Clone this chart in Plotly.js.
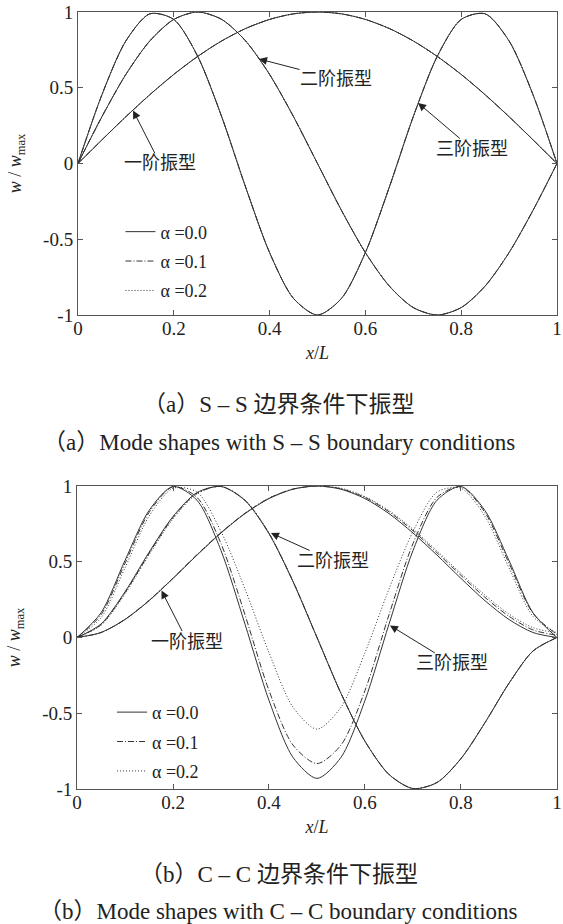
<!DOCTYPE html>
<html>
<head>
<meta charset="utf-8">
<script src="https://cdn.plot.ly/plotly-3.0.1.min.js"></script>
<style>html,body{margin:0;padding:0;background:#fff;}#chart{width:563px;height:924px;}</style>
</head>
<body>
<div id="chart"></div>
<script>
// ---- data ----
var xs = [0,0.05,0.1,0.15,0.2,0.25,0.3,0.35,0.4,0.45,0.5,0.55,0.6,0.65,0.7,0.75,0.8,0.85,0.9,0.95,1];
var alphaNames = ["α =0.0", "α =0.1", "α =0.2"];
var modeNames = ["一阶振型", "二阶振型", "三阶振型"];
var xTickVals = [0,0.2,0.4,0.6,0.8,1];
var xTickText = ["0","0.2","0.4","0.6","0.8","1"];
var yTickVals = [-1,-0.5,0,0.5,1];
var yTickText = ["-1","-0.5","0","0.5","1"];

// S-S boundary conditions (identical for all alpha)
var ssMode1 = [0,0.156,0.309,0.454,0.588,0.707,0.809,0.891,0.951,0.988,1,0.988,0.951,0.891,0.809,0.707,0.588,0.454,0.309,0.156,0];
var ssMode2 = [0,0.309,0.588,0.809,0.951,1,0.951,0.809,0.588,0.309,0,-0.309,-0.588,-0.809,-0.951,-1,-0.951,-0.809,-0.588,-0.309,0];
var ssMode3 = [0,0.454,0.809,0.988,0.951,0.707,0.309,-0.156,-0.588,-0.891,-1,-0.891,-0.588,-0.156,0.309,0.707,0.951,0.988,0.809,0.454,0];

// C-C boundary conditions
var ccMode1_a0 = [0,0.033,0.119,0.243,0.390,0.544,0.690,0.818,0.917,0.979,1,0.979,0.917,0.818,0.690,0.544,0.390,0.243,0.119,0.033,0];
var ccMode1_a1 = [0,0.033,0.120,0.245,0.392,0.547,0.693,0.820,0.920,0.980,1,0.982,0.925,0.830,0.705,0.560,0.410,0.265,0.140,0.050,0.015];
var ccMode1_a2 = [0,0.032,0.118,0.242,0.390,0.545,0.692,0.820,0.920,0.980,1,0.985,0.930,0.838,0.715,0.572,0.422,0.280,0.155,0.065,0.030];
var ccMode2_a0 = [0,0.089,0.302,0.562,0.799,0.957,0.997,0.904,0.685,0.369,0,-0.369,-0.685,-0.904,-0.997,-0.957,-0.799,-0.562,-0.302,-0.089,0];
var ccMode2_a1 = [0,0.085,0.296,0.554,0.792,0.953,0.997,0.906,0.687,0.370,0,-0.369,-0.685,-0.904,-0.997,-0.957,-0.799,-0.562,-0.302,-0.089,0];
var ccMode2_a2 = [0,0.080,0.288,0.545,0.783,0.948,0.997,0.908,0.690,0.372,0.002,-0.368,-0.684,-0.903,-0.997,-0.958,-0.800,-0.563,-0.303,-0.090,0];
var ccMode3_a0 = [0,0.163,0.509,0.838,0.997,0.906,0.574,0.088,-0.415,-0.791,-0.930,-0.791,-0.415,0.088,0.574,0.906,0.997,0.838,0.509,0.163,0];
var ccMode3_a1 = [0,0.150,0.490,0.825,0.995,0.925,0.620,0.150,-0.350,-0.710,-0.832,-0.710,-0.350,0.150,0.620,0.925,0.995,0.825,0.490,0.160,0.020];
var ccMode3_a2 = [0,0.130,0.460,0.800,0.985,0.960,0.700,0.320,-0.100,-0.460,-0.605,-0.460,-0.100,0.320,0.700,0.960,0.985,0.800,0.460,0.140,0.030];

// ---- styles ----
var ink = '#333';
var dashes = ['solid', '6px,2px,1px,2px', '1px,2px'];
var serif = 'Liberation Serif, Times New Roman, serif';
var cjk = 'Liberation Serif, Noto Sans CJK SC, serif';

var traces = [];
function addSet(series, alphaIdx, xa, ya, legendId, groupPrefix) {
  series.forEach(function (ys, k) {
    traces.push({
      x: xs, y: ys, xaxis: xa, yaxis: ya, type: 'scatter', mode: 'lines',
      line: {color: ink, width: 1, dash: dashes[alphaIdx], shape: 'spline', smoothing: 0.8},
      name: alphaNames[alphaIdx], legend: legendId,
      legendgroup: groupPrefix + alphaIdx, legendrank: alphaIdx + 1,
      showlegend: k === 0, hoverinfo: 'skip'
    });
  });
}
[2, 1, 0].forEach(function (a) { addSet([ssMode1, ssMode2, ssMode3], a, 'x', 'y', 'legend', 'ss'); });
var ccSets = [
  [ccMode1_a0, ccMode2_a0, ccMode3_a0],
  [ccMode1_a1, ccMode2_a1, ccMode3_a1],
  [ccMode1_a2, ccMode2_a2, ccMode3_a2]
];
[2, 1, 0].forEach(function (a) { addSet(ccSets[a], a, 'x2', 'y2', 'legend2', 'cc'); });

function xAxis(domain, anchor) {
  return {
    domain: domain, anchor: anchor, range: [0, 1], fixedrange: true,
    tickvals: xTickVals, ticktext: xTickText, ticks: 'inside', ticklen: 5, tickcolor: '#555',
    ticklabeloverflow: 'allow', ticklabelstandoff: -4,
    showline: true, linecolor: '#555', linewidth: 1, mirror: 'ticks', showgrid: false, zeroline: false,
    tickfont: {family: serif, size: 19, color: '#222'},
    title: {text: '<i>x</i>/<i>L</i>', font: {family: serif, size: 18, color: '#222'}, standoff: 8}
  };
}
function yAxis(domain, anchor) {
  return {
    domain: domain, anchor: anchor, range: [-1, 1], fixedrange: true,
    tickvals: yTickVals, ticktext: yTickText, ticks: 'inside', ticklen: 5, tickcolor: '#555',
    ticklabeloverflow: 'allow',
    showline: true, linecolor: '#555', linewidth: 1, mirror: 'ticks', showgrid: false, zeroline: false,
    tickfont: {family: serif, size: 19, color: '#222'},
    title: {text: '<i>w</i> / <i>w</i><sub>max</sub>', font: {family: serif, size: 18, color: '#222'}, standoff: 16}
  };
}

// label placed at offset (ax, ay) px from the arrow tip; arrow runs from label box to tip
function modeAnn(xref, yref, x, y, ax, ay, txt) {
  return {xref: xref, yref: yref, x: x, y: y, ax: ax, ay: ay, text: txt, showarrow: true,
    arrowhead: 2, arrowsize: 1.6, arrowwidth: 1, arrowcolor: '#222', standoff: 0, borderpad: 0,
    font: {family: cjk, size: 18, color: '#222'}};
}
function caption(y, txt, size) {
  return {xref: 'paper', yref: 'paper', x: 0.495, y: y, text: txt, showarrow: false,
    xanchor: 'center', yanchor: 'middle', font: {family: cjk, size: size, color: '#222'}};
}

var layout = {
  width: 563, height: 924, margin: {l: 0, r: 0, t: 0, b: 0},
  paper_bgcolor: '#fff', plot_bgcolor: '#fff',
  xaxis: xAxis([0.1385, 0.9893], 'y'),
  yaxis: yAxis([0.6591, 0.9870], 'x'),
  xaxis2: xAxis([0.1368, 0.9893], 'y2'),
  yaxis2: yAxis([0.1461, 0.4740], 'x2'),
  legend: {x: 0.214, y: 0.769, xanchor: 'left', yanchor: 'top', bgcolor: 'rgba(0,0,0,0)',
    font: {family: serif, size: 18, color: '#222'}, traceorder: 'grouped', tracegroupgap: 3},
  legend2: {x: 0.199, y: 0.249, xanchor: 'left', yanchor: 'top', bgcolor: 'rgba(0,0,0,0)',
    font: {family: serif, size: 18, color: '#222'}, traceorder: 'grouped', tracegroupgap: 3},
  annotations: [
    modeAnn('x', 'y', 0.115, 0.35, 27, 53, modeNames[0]),
    modeAnn('x', 'y', 0.378, 0.69, 77, 20, modeNames[1]),
    modeAnn('x', 'y', 0.71, 0.40, 54, 46, modeNames[2]),
    modeAnn('x2', 'y2', 0.176, 0.31, 26, 51, modeNames[0]),
    modeAnn('x2', 'y2', 0.404, 0.69, 62, 28, modeNames[1]),
    modeAnn('x2', 'y2', 0.652, 0.08, 62, 38, modeNames[2]),
    caption(0.5617, '（a）S – S 边界条件下振型', 23),
    caption(0.5206, '（a）Mode shapes with S – S boundary conditions', 23),
    caption(0.0541, '（b）C – C 边界条件下振型', 23),
    caption(0.0130, '（b）Mode shapes with C – C boundary conditions', 23)
  ]
};

Plotly.newPlot('chart', traces, layout, {staticPlot: true, displayModeBar: false});
</script>
</body>
</html>
